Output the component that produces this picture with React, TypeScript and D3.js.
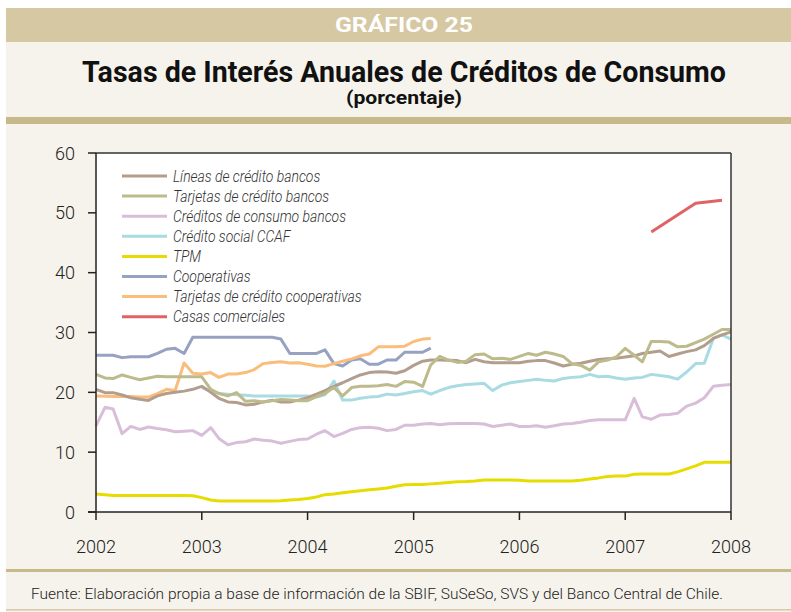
import React from "react";
import * as d3 from "d3";

// ---- Data (monthly, Jan 2002 = month 0) ----
const yearTicks = [2002, 2003, 2004, 2005, 2006, 2007, 2008];
const yTicks = [0, 10, 20, 30, 40, 50, 60];

const lineasStart = 0;
const lineas = [
  20.5, 19.95, 19.95, 19.55, 19.1, 18.85, 18.65, 19.4, 19.8, 20.0, 20.2, 20.5,
  21.0, 20.0, 19.0, 18.4, 18.3, 17.9, 18.0, 18.4, 18.7, 18.4, 18.4, 18.7,
  19.1, 19.7, 20.3, 21.0, 21.6, 22.3, 22.9, 23.3, 23.45, 23.4, 23.2, 23.6,
  24.5, 25.2, 25.4, 25.4, 25.35, 25.3, 24.95, 25.5, 25.1, 24.95, 24.95, 24.95,
  24.95, 25.2, 25.3, 25.3, 24.9, 24.4, 24.7, 24.85, 25.2, 25.5, 25.6, 25.7,
  25.9, 26.1, 26.5, 26.7, 26.9, 26.0, 26.4, 26.8, 27.1, 27.8, 29.0, 29.6,
  30.1,
];

const tarjetasStart = 0;
const tarjetas = [
  23.0, 22.4, 22.3, 22.9, 22.5, 22.1, 22.4, 22.7, 22.6, 22.6, 22.6, 22.6,
  22.6, 20.5, 19.8, 19.4, 19.95, 18.5, 18.6, 18.4, 18.6, 18.8, 18.7, 18.6,
  18.6, 19.3, 19.8, 20.8, 19.4, 20.8, 21.0, 21.0, 21.1, 21.3, 21.0, 21.8,
  21.7, 21.0, 24.6, 26.0, 25.4, 25.0, 25.2, 26.3, 26.4, 25.6, 25.7, 25.5,
  26.0, 26.5, 26.2, 26.7, 26.4, 26.0, 24.8, 24.5, 23.7, 25.1, 25.4, 25.9,
  27.35, 26.2, 25.1, 28.5, 28.5, 28.4, 27.6, 27.7, 28.3, 28.9, 29.7, 30.5,
  30.5,
];

const consumoStart = 0;
const consumo = [
  14.4, 17.5, 17.2, 13.1, 14.3, 13.8, 14.2, 13.95, 13.75, 13.4, 13.5, 13.6,
  12.8, 14.1, 12.3, 11.25, 11.6, 11.75, 12.2, 12.0, 11.85, 11.5, 11.8, 12.1,
  12.2, 13.0, 13.6, 12.6, 13.15, 13.8, 14.1, 14.15, 14.0, 13.6, 13.8, 14.5,
  14.5, 14.7, 14.8, 14.6, 14.75, 14.8, 14.8, 14.8, 14.7, 14.3, 14.5, 14.7,
  14.3, 14.3, 14.4, 14.15, 14.4, 14.7, 14.8, 15.0, 15.3, 15.4, 15.4, 15.4,
  15.4, 19.0, 15.9, 15.5, 16.2, 16.3, 16.5, 17.7, 18.2, 19.1, 21.0, 21.2,
  21.3,
];

const ccafStart = 12;
const ccaf = [
  20.8, 20.2, 19.8, 19.7, 19.6, 19.5, 19.4, 19.4, 19.4, 19.4, 19.4, 19.4,
  19.4, 19.2, 19.6, 21.9, 18.7, 18.7, 19.0, 19.2, 19.3, 19.7, 19.55, 19.8,
  20.1, 20.3, 19.7, 20.3, 20.8, 21.1, 21.3, 21.4, 21.5, 20.3, 21.2, 21.6,
  21.8, 22.0, 22.2, 22.0, 21.9, 22.3, 22.5, 22.6, 23.0, 22.6, 22.7, 22.4,
  22.2, 22.4, 22.5, 23.0, 22.8, 22.6, 22.2, 23.4, 24.8, 24.85, 29.0, 29.6,
  28.9,
];

const tpmStart = 0;
const tpm = [
  3.0, 2.9, 2.75, 2.75, 2.75, 2.75, 2.75, 2.75, 2.75, 2.75, 2.75, 2.7,
  2.4, 2.0, 1.85, 1.85, 1.85, 1.85, 1.85, 1.85, 1.85, 1.9, 2.0, 2.1,
  2.25, 2.5, 2.9, 3.0, 3.2, 3.4, 3.55, 3.7, 3.85, 4.0, 4.3, 4.55,
  4.6, 4.6, 4.7, 4.8, 4.95, 5.05, 5.1, 5.2, 5.35, 5.35, 5.35, 5.35,
  5.3, 5.2, 5.2, 5.2, 5.2, 5.2, 5.2, 5.3, 5.5, 5.7, 5.95, 6.0,
  6.0, 6.3, 6.35, 6.35, 6.35, 6.35, 6.7, 7.2, 7.7, 8.3, 8.3, 8.3,
  8.3,
];

const coopStart = 0;
const coop = [
  26.2, 26.2, 26.2, 25.8, 25.95, 25.95, 25.95, 26.5, 27.2, 27.35, 26.5, 29.2,
  29.2, 29.2, 29.2, 29.2, 29.2, 29.2, 29.2, 29.2, 29.2, 28.9, 26.5, 26.5,
  26.5, 26.5, 27.1, 24.8, 24.4, 25.4, 25.6, 24.7, 24.7, 25.4, 25.4, 26.7,
  26.7, 26.7, 27.4,
];

const tarjCoopStart = 0;
const tarjCoop = [
  19.4, 19.35, 19.3, 19.3, 19.3, 19.2, 19.2, 19.8, 20.5, 20.3, 24.9, 23.2,
  23.05, 23.3, 22.5, 23.05, 23.05, 23.3, 23.8, 24.8, 25.0, 25.1, 24.9, 24.95,
  24.7, 24.4, 24.35, 24.8, 25.2, 25.6, 26.1, 26.4, 27.6, 27.6, 27.6, 27.7,
  28.5, 28.9, 29.0,
];

const casasMonths = [63, 68, 71];
const casas = [46.8, 51.6, 52.1];

const seriesNames = [
  "Líneas de crédito bancos",
  "Tarjetas de crédito bancos",
  "Créditos de consumo bancos",
  "Crédito social CCAF",
  "TPM",
  "Cooperativas",
  "Tarjetas de crédito cooperativas",
  "Casas comerciales",
];
const seriesColors = [
  "#b39e8e",
  "#bdbb8b",
  "#d8bed8",
  "#a9dbe3",
  "#e6dc00",
  "#97a2c3",
  "#fbbd7c",
  "#e06363",
];

type Pt = { m: number; v: number };
const fromStart = (start: number, vals: number[]): Pt[] =>
  vals.map((v, i) => ({ m: start + i, v }));

const seriesPoints: Pt[][] = [
  fromStart(lineasStart, lineas),
  fromStart(tarjetasStart, tarjetas),
  fromStart(consumoStart, consumo),
  fromStart(ccafStart, ccaf),
  fromStart(tpmStart, tpm),
  fromStart(coopStart, coop),
  fromStart(tarjCoopStart, tarjCoop),
  casasMonths.map((m, i) => ({ m, v: casas[i] })),
];

// draw order (back to front)
const drawOrder = [5, 6, 3, 2, 4, 0, 1, 7];

export default function App() {
  const W = 791;
  const H = 612;
  const left = 96;
  const right = 731;
  const top = 153;
  const bottom = 512;

  const x = d3
    .scaleTime()
    .domain([new Date(2002, 0, 1), new Date(2008, 0, 1)])
    .range([left, right]);
  const y = d3.scaleLinear().domain([0, 60]).range([bottom, top]);

  const line = d3
    .line<Pt>()
    .x((d) => x(new Date(2002, d.m, 1)))
    .y((d) => y(d.v));

  const cream = "#f6f3ec";
  const band = "#d5c8a3";
  const bar = "#c8b98b";
  const font = "Roboto, 'Open Sans', sans-serif";

  return (
    <svg
      width={W}
      height={H}
      viewBox={`0 0 ${W} ${H}`}
      style={{ position: "absolute", left: 0, top: 0 }}
    >
      <rect x={0} y={0} width={W} height={H} fill="#ffffff" />
      <rect x={6} y={8} width={W - 6} height={H - 8} fill={cream} />
      {/* header band */}
      <rect x={6} y={8} width={W - 6} height={34} fill={band} />
      <text
        x={404}
        y={32}
        textAnchor="middle"
        fill="#ffffff"
        fontFamily={font}
        fontWeight={700}
        fontSize={20}
        textLength={138}
        lengthAdjust="spacingAndGlyphs"
      >
        GRÁFICO 25
      </text>
      <text
        x={404}
        y={82}
        textAnchor="middle"
        fill="#111"
        fontFamily={font}
        fontWeight={700}
        fontSize={29}
        textLength={644}
        lengthAdjust="spacingAndGlyphs"
      >
        Tasas de Interés Anuales de Créditos de Consumo
      </text>
      <text
        x={404}
        y={104}
        textAnchor="middle"
        fill="#111"
        fontFamily={font}
        fontWeight={700}
        fontSize={18}
        textLength={116}
        lengthAdjust="spacingAndGlyphs"
      >
        (porcentaje)
      </text>
      <rect x={6} y={117} width={W - 6} height={7} fill={bar} />

      {/* plot area */}
      <rect x={left} y={top} width={right - left} height={bottom - top} fill="#ffffff" />

      {drawOrder.map((i) => (
        <path
          key={i}
          d={line(seriesPoints[i]) || ""}
          fill="none"
          stroke={seriesColors[i]}
          strokeWidth={3}
          strokeLinejoin="round"
        />
      ))}

      {/* frame */}
      <line x1={left} x2={right} y1={top} y2={top} stroke="#333" strokeWidth={1.5} />
      <line x1={right} x2={right} y1={top} y2={bottom} stroke="#333" strokeWidth={1.5} />
      <line x1={left} x2={left} y1={top} y2={bottom} stroke="#222" strokeWidth={1.5} />
      <line x1={left - 8} x2={right} y1={bottom} y2={bottom} stroke="#222" strokeWidth={1.5} />

      {yTicks.map((t) => (
        <g key={t}>
          <line x1={left - 8} x2={left} y1={y(t)} y2={y(t)} stroke="#222" strokeWidth={1.5} />
          <text
            x={75}
            y={y(t) + 6.5}
            textAnchor="end"
            fontFamily={font}
            fontWeight={300}
            fontSize={18}
            fill="#222"
          >
            {t}
          </text>
        </g>
      ))}
      {yearTicks.map((yr) => {
        const xx = x(new Date(yr, 0, 1));
        return (
          <g key={yr}>
            <line x1={xx} x2={xx} y1={bottom} y2={bottom + 8} stroke="#222" strokeWidth={1.5} />
            <text
              x={xx}
              y={553}
              textAnchor="middle"
              fontFamily={font}
              fontWeight={300}
              fontSize={18}
              fill="#222"
            >
              {yr}
            </text>
          </g>
        );
      })}

      {/* legend */}
      {seriesNames.map((name, i) => {
        const ly = 176 + i * 20.1;
        return (
          <g key={name}>
            <line x1={122} x2={167} y1={ly} y2={ly} stroke={seriesColors[i]} strokeWidth={3} />
            <g transform={`translate(173,${ly + 5.5}) scale(0.87,1)`}>
              <text
                x={0}
                y={0}
                fontFamily={font}
                fontStyle="italic"
                fontWeight={300}
                fontSize={16}
                fill="#333"
              >
                {name}
              </text>
            </g>
          </g>
        );
      })}

      {/* footer */}
      <rect x={6} y={569} width={W - 6} height={3} fill={bar} />
      <text
        x={31}
        y={599}
        fontFamily={font}
        fontWeight={300}
        fontSize={15}
        fill="#222"
        textLength={692}
        lengthAdjust="spacingAndGlyphs"
      >
        Fuente: Elaboración propia a base de información de la SBIF, SuSeSo, SVS y del Banco Central de Chile.
      </text>
      <rect x={6} y={609} width={W - 6} height={1.5} fill={band} />
    </svg>
  );
}
